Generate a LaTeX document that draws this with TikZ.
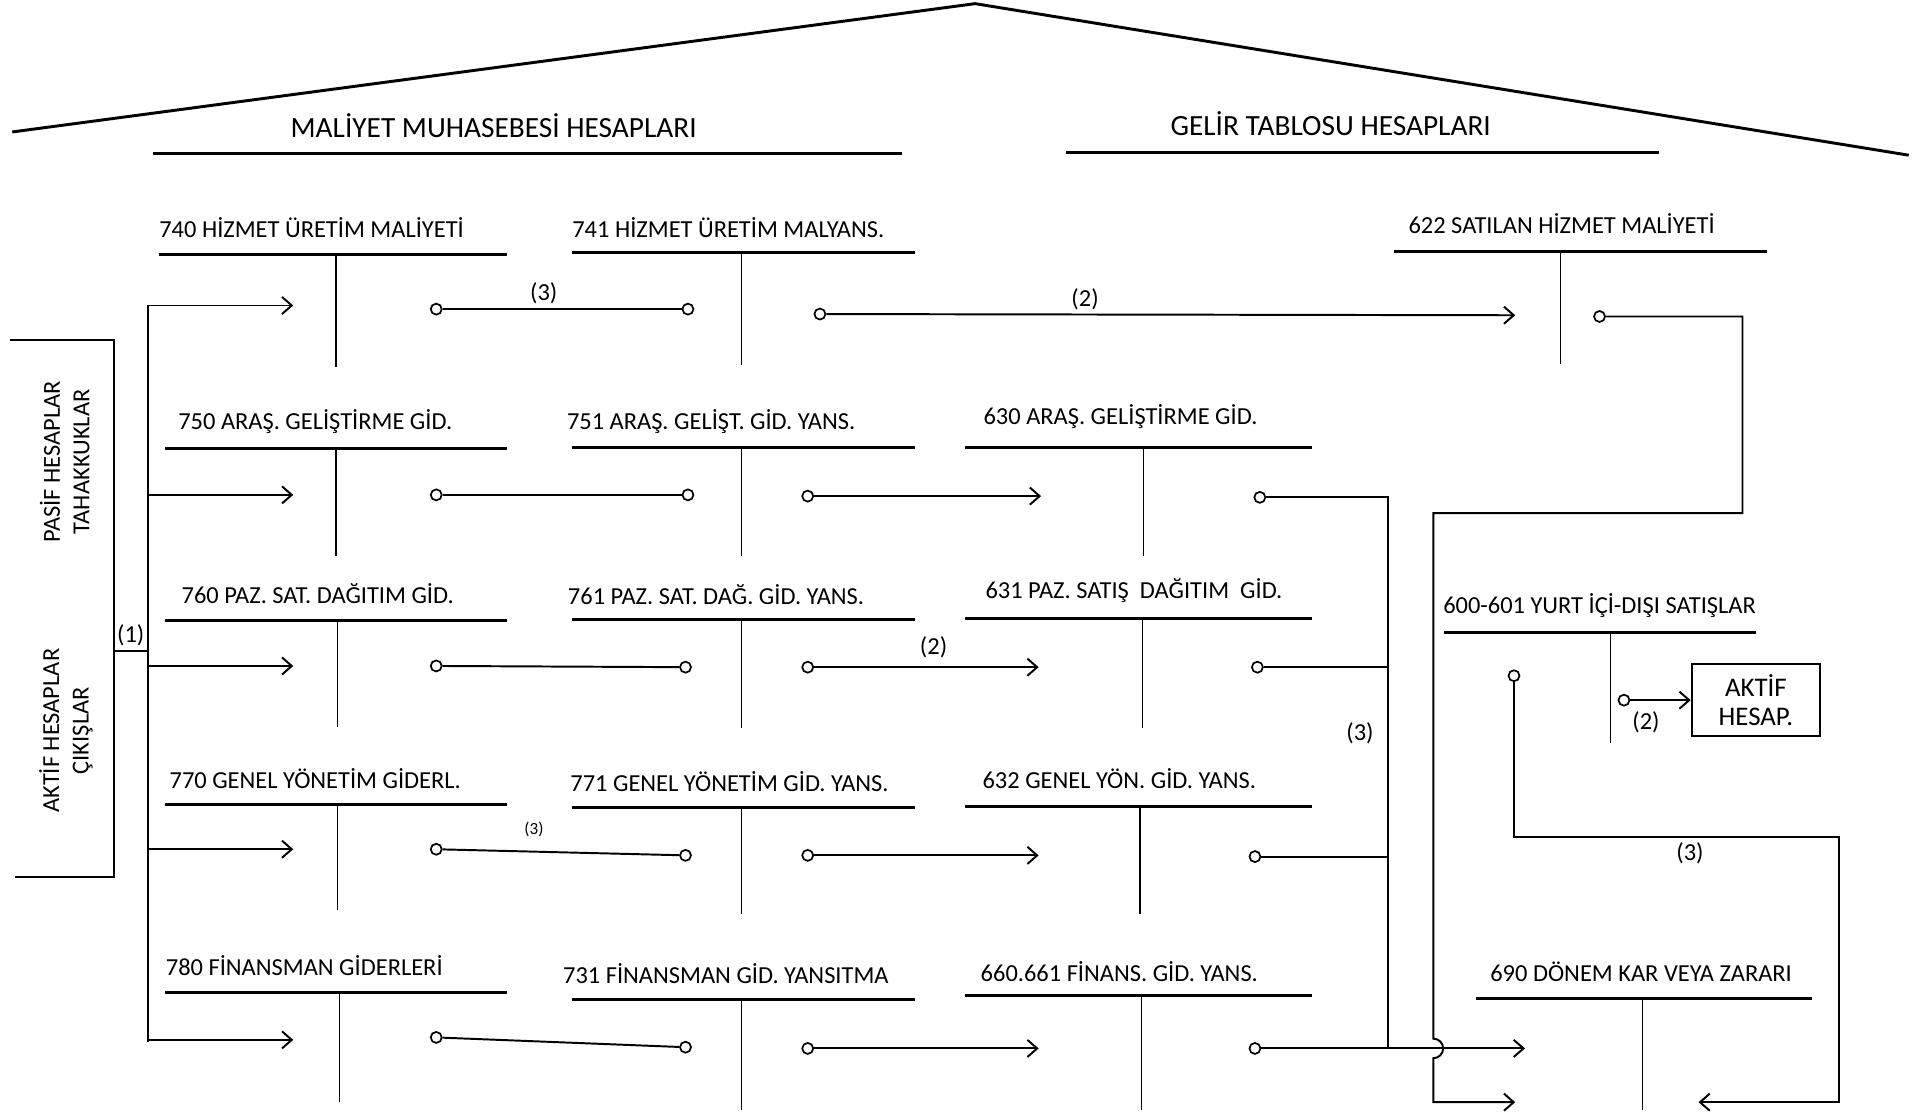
\documentclass[tikz,border=0pt]{standalone}
\usepackage{fontspec}
\setmainfont{Carlito}
\usetikzlibrary{arrows.meta}
\begin{document}
\begin{tikzpicture}[x=0.5pt,y=-0.5pt,
  ttl/.style={font=\fontsize{10}{11}\selectfont, inner sep=0pt},
  hdr/.style={font=\fontsize{12}{13}\selectfont, inner sep=0pt},
  lbl/.style={font=\fontsize{10}{11}\selectfont, inner sep=0pt},
  side/.style={font=\fontsize{10}{12}\selectfont, inner sep=0pt, align=center, rotate=90},
  tline/.style={line width=1.2pt},
  stem/.style={line width=0.6pt},
  conn/.style={line width=0.8pt},
  roof/.style={line width=1.2pt},
  arr/.style={conn,-{Straight Barb[length=4pt,width=7pt,line width=0.8pt]}},
  dot/.style={circle, draw, line width=0.7pt, fill=white, inner sep=0pt, minimum size=4.5pt},
  abox/.style={draw, line width=0.9pt, minimum width=52.5pt, minimum height=29.5pt, align=center, inner sep=0pt, font=\fontsize{11}{12}\selectfont}
]
\useasboundingbox (0,0) rectangle (1568,914);

% roof
\coordinate (rl) at (10,108);
\coordinate (rp) at (798,3);
\coordinate (rr) at (1562,127);
\draw[roof] (rl) -- (rp) -- (rr);

% headers
\node[hdr] (hm) at (404,103) {MALİYET MUHASEBESİ HESAPLARI};
\node[hdr] (hg) at (1089,101) {GELİR TABLOSU HESAPLARI};
\draw[tline] (125,126) -- (738,126);
\draw[tline] (872,125) -- (1358,125);

% T account macro: name, tx, ty, x1, x2, ly, sx, sy, text
\newcommand\Tacc[9]{%
  \node[ttl] (#1) at (#2,#3) {#9};
  \draw[tline] (#4,#6) -- (#5,#6);
  \draw[stem] (#7,#6) -- (#7,#8);
}

% row 1
\Tacc{t740}{255}{186}{130}{415}{208}{275}{300}{740 HİZMET ÜRETİM MALİYETİ}
\Tacc{t741}{596}{186}{468}{749}{207}{607}{299}{741 HİZMET ÜRETİM MALYANS.}
\Tacc{t622}{1278}{183}{1141}{1446}{206}{1277}{298}{622 SATILAN HİZMET MALİYETİ}
% row 2
\Tacc{t750}{258}{345}{135}{415}{367}{275}{455}{750 ARAŞ. GELİŞTİRME GİD.}
\Tacc{t751}{582}{345}{468}{749}{366}{607}{455}{751 ARAŞ. GELİŞT. GİD. YANS.}
\Tacc{t630}{917}{341}{790}{1074}{366}{936}{455}{630 ARAŞ. GELİŞTİRME GİD.}
% row 3
\Tacc{t760}{260}{486}{135}{415}{508}{276}{595}{760 PAZ. SAT. DAĞITIM GİD.}
\Tacc{t761}{586}{487}{468}{749}{507}{607}{596}{761 PAZ. SAT. DAĞ. GİD. YANS.}
\Tacc{t631}{928}{483}{790}{1074}{506}{935}{596}{631 PAZ. SATIŞ\ \ DAĞITIM\ \ GİD.}
\Tacc{t600}{1309}{496}{1182}{1437}{518}{1318}{608}{600-601 YURT İÇİ-DIŞI SATIŞLAR}
% row 4
\Tacc{t770}{258}{637}{135}{415}{658}{276}{745}{770 GENEL YÖNETİM GİDERL.}
\Tacc{t771}{597}{640}{468}{749}{661}{607}{748}{771 GENEL YÖNETİM GİD. YANS.}
\Tacc{t632}{916}{637}{790}{1074}{660}{933}{748}{632 GENEL YÖN. GİD. YANS.}
% row 5
\Tacc{t780}{249}{790}{135}{415}{812}{278}{902}{780 FİNANSMAN GİDERLERİ}
\Tacc{t731}{594}{797}{468}{749}{818}{607}{908}{731 FİNANSMAN GİD. YANSITMA}
\Tacc{t660}{916}{795}{790}{1074}{815}{934}{908}{660.661 FİNANS. GİD. YANS.}
\Tacc{t690}{1343}{795}{1208}{1483}{817}{1344}{908}{690 DÖNEM KAR VEYA ZARARI}

% left bracket
\coordinate (k1) at (8,278);
\coordinate (k2) at (93,278);
\coordinate (k3) at (93,718);
\coordinate (k4) at (12,718);
\coordinate (k5) at (93,533);
\draw[conn] (k1) -- (k2) -- (k3) -- (k4);
\node[side] (sp) at (53,378) {PASİF HESAPLAR\\TAHAKKUKLAR};
\node[side] (sa) at (54,598) {AKTİF HESAPLAR\\ÇIKIŞLAR};
\node[lbl] (l1) at (107,520) {(1)};

% left bus
\coordinate (bt) at (121,250);
\coordinate (bb) at (121,853);
\draw[conn] (bt) -- (bb);
\coordinate (kb) at (121,533);
\draw[conn] (k5) -- (kb);
\foreach \i/\y in {1/250,2/405,3/545,4/695,5/851}{
  \coordinate (b\i) at (121,\y);
  \coordinate (a\i) at (240,\y);
  \draw[arr] (b\i) -- (a\i);
}

% circles
\node[dot] (c740) at (357,253) {};
\node[dot] (c741a) at (563,253) {};
\node[dot] (c741) at (671,257) {};
\node[dot] (c622) at (1309,259) {};
\node[dot] (c750) at (357,405) {};
\node[dot] (c751a) at (563,405) {};
\node[dot] (c751) at (661,406) {};
\node[dot] (c630) at (1031,407) {};
\node[dot] (c760) at (357,545) {};
\node[dot] (c761a) at (561,546) {};
\node[dot] (c761) at (661,546) {};
\node[dot] (c631) at (1029,546) {};
\node[dot] (c770) at (357,695) {};
\node[dot] (c771a) at (561,700) {};
\node[dot] (c771) at (661,700) {};
\node[dot] (c632) at (1027,701) {};
\node[dot] (c780) at (357,849) {};
\node[dot] (c731a) at (561,857) {};
\node[dot] (c731) at (661,858) {};
\node[dot] (c660) at (1027,858) {};
\node[dot] (c600t) at (1239,553) {};
\node[dot] (c600r) at (1329,573) {};

% arrow targets
\coordinate (e622) at (1240,258);
\coordinate (e630) at (852,406);
\coordinate (e631) at (850,546);
\coordinate (e632) at (850,700);
\coordinate (e660) at (850,858);
\coordinate (e690a) at (1248,858);
\coordinate (e690b) at (1240,902);
\coordinate (e690c) at (1390,902);

% connectors 7xx -> 7x1
\draw[conn] (c740) -- (c741a);
\draw[conn] (c750) -- (c751a);
\draw[conn] (c760) -- (c761a);
\draw[conn] (c770) -- (c771a);
\draw[conn] (c780) -- (c731a);
% 7x1 -> 6xx
\draw[arr] (c741) -- (e622);
\draw[arr] (c751) -- (e630);
\draw[arr] (c761) -- (e631);
\draw[arr] (c771) -- (e632);
\draw[arr] (c731) -- (e660);

% 6xx -> 690 bus
\coordinate (v630) at (1136,407);
\coordinate (v631) at (1136,546);
\coordinate (v632) at (1136,701);
\coordinate (v660) at (1136,858);
\draw[conn] (c630) -- (v630) -- (v660);
\draw[conn] (c631) -- (v631);
\draw[conn] (c632) -- (v632);
\draw[arr] (c660) -- (e690a);

% 622 -> 690
\coordinate (p1) at (1426,259);
\coordinate (p2) at (1426,420);
\coordinate (p3) at (1173,420);
\coordinate (p4) at (1173,850);
\coordinate (p5) at (1173,902);
\draw[arr] (c622) -- (p1) -- (p2) -- (p3) -- (p4)
  arc[start angle=90, end angle=-90, radius=4pt] -- (p5) -- (e690b);

% 600-601 -> 690
\coordinate (q1) at (1239,685);
\coordinate (q2) at (1505,685);
\coordinate (q3) at (1505,902);
\draw[arr] (c600t) -- (q1) -- (q2) -- (q3) -- (e690c);

% 600-601 -> aktif
\node[abox] (aktif) at (1437,573) {AKTİF\\HESAP.};
\draw[arr] (c600r) -- (aktif.west);

% labels
\node[lbl] (l31) at (445,240) {(3)};
\node[lbl] (l21) at (888,245) {(2)};
\node[lbl] (l23) at (764,530) {(2)};
\node[lbl, font=\fontsize{7}{8}\selectfont] (l34) at (437,679) {(3)};
\node[lbl] (l3b) at (1113,600) {(3)};
\node[lbl] (l3c) at (1383,698) {(3)};
\node[lbl] (l2c) at (1347,591) {(2)};
\end{tikzpicture}
\end{document}
